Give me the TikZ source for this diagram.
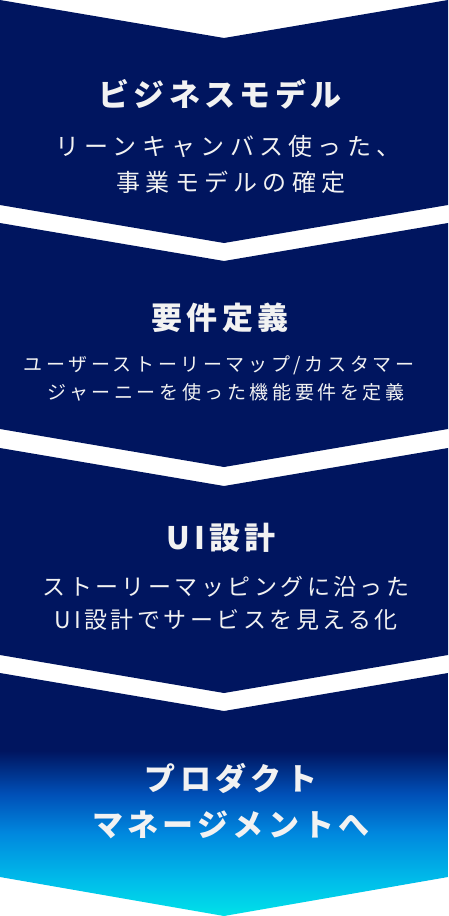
\documentclass[tikz,border=0pt]{standalone}
\usepackage{fontspec}
\newfontfamily\headfont{Noto Sans CJK JP}[LetterSpace=14]
\newfontfamily\bodyfont{Noto Sans CJK JP}[LetterSpace=22]
\newfontfamily\uibodyfont{Noto Sans CJK JP}[LetterSpace=15]
\newfontfamily\smallbodyfont{Noto Sans CJK JP}[LetterSpace=19]
\definecolor{stepnavy}{HTML}{00155F}
\definecolor{stepwhite}{HTML}{F2F2F2}
\definecolor{gradaqua}{HTML}{00E2E8}
\definecolor{gradsky}{HTML}{00BEEA}
\definecolor{gradazure}{HTML}{0088DE}
\definecolor{gradroyal}{HTML}{0050B8}
\pgfdeclareverticalshading{lastgrad}{100bp}{color(0bp)=(gradaqua); color(25bp)=(gradaqua); color(32bp)=(gradsky); color(42bp)=(gradazure); color(50bp)=(gradroyal); color(59bp)=(stepnavy); color(100bp)=(stepnavy)}
\begin{document}
\begin{tikzpicture}[x=1pt,y=-1pt,
	head/.style={anchor=base,inner sep=0pt,text=stepwhite,font={\fontsize{31}{31}\selectfont\headfont\bfseries}},
	body/.style={anchor=base,inner sep=0pt,text=stepwhite,font={\fontsize{24}{24}\selectfont\bodyfont}},
	uibody/.style={anchor=base,inner sep=0pt,text=stepwhite,font={\fontsize{23}{23}\selectfont\uibodyfont}},
	smallbody/.style={anchor=base,inner sep=0pt,text=stepwhite,font={\fontsize{19}{19}\selectfont\smallbodyfont}}]

		\useasboundingbox (0,0) rectangle (448,916);

		% chevrons
		\foreach \t/\h in {0/205,223/206,448/207}
			\fill[stepnavy] (0,\t) -- (224,\t+38) -- (448,\t) -- (448,\t+\h) -- (224,\t+\h+38) -- (0,\t+\h) -- cycle;
		\shade[shading=lastgrad] (0,673) -- (224,711) -- (448,673) -- (448,877) -- (224,916) -- (0,877) -- cycle;

		\node[head] (bizTitle) at (220,106) {ビジネスモデル};
		\node[body] (bizLineA) at (228,155) {リーンキャンバス使った、};
		\node[body] (bizLineB) at (231,191) {事業モデルの確定};

		\node[head] (reqTitle) at (220,329) {要件定義};
		\node[smallbody] (reqLineA) at (219,371) {ユーザーストーリーマップ/カスタマー};
		\node[smallbody] (reqLineB) at (226,399) {ジャーニーを使った機能要件を定義};

		\node[head] (uiTitle) at (221,549) {UI設計};
		\node[uibody] (uiLineA) at (226,595) {ストーリーマッピングに沿った};
		\node[uibody] (uiLineB) at (226,628) {UI設計でサービスを見える化};

		\node[head] (pmTitleA) at (231,790) {プロダクト};
		\node[head] (pmTitleB) at (231,836) {マネージメントへ};

\end{tikzpicture}
\end{document}
